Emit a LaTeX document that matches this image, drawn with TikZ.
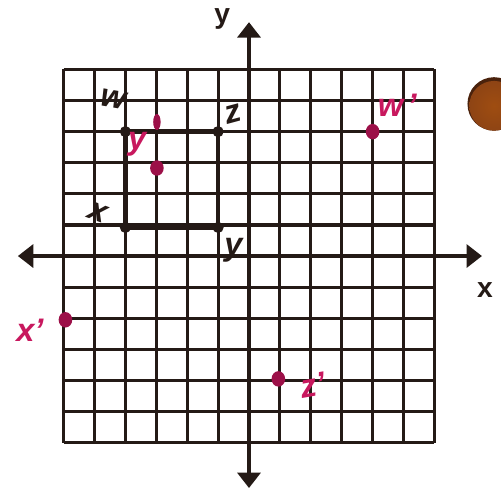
\documentclass[tikz,border=0pt]{standalone}
\usepackage{fontspec}
\setmainfont{Liberation Sans}
\usetikzlibrary{arrows.meta,shapes.geometric}
\definecolor{ink}{HTML}{241A16}
\definecolor{pinkdot}{HTML}{9C1048}
\definecolor{pinkink}{HTML}{C8185E}
\definecolor{brownball}{HTML}{8E4414}
\definecolor{browndark}{HTML}{4A220C}
\tikzset{
  gridline/.style={ink, line width=2.9pt},
  axisline/.style={ink, line width=3.6pt, -{Triangle[width=7.4mm,length=5mm]}},
  cornerdot/.style={circle, fill=ink, inner sep=0pt, minimum size=3.6mm},
  imgdot/.style={ellipse, fill=pinkdot, inner sep=0pt, minimum width=4.4mm, minimum height=5mm},
  axislabel/.style={font=\fontsize{26}{28}\selectfont\bfseries, text=ink, inner sep=0pt},
  handlabel/.style={font=\fontsize{30}{32}\selectfont\bfseries\itshape, text=ink, inner sep=0pt},
  pinklabel/.style={font=\fontsize{30}{32}\selectfont\bfseries\itshape, text=pinkink, inner sep=0pt},
}
\begin{document}
\begin{tikzpicture}[x=1cm, y=1.0065cm]
\useasboundingbox (-8.058,-7.653) rectangle (8.155,8.232);
\fill[white] (-8.058,-7.653) rectangle (8.155,8.232);
% grid
\foreach \i in {-6,...,6} {
  \draw[gridline] (\i,-6) -- (\i,6);
  \draw[gridline] (-6,\i) -- (6,\i);
}
% axes
\coordinate (O) at (0,0);
\coordinate (xl) at (-7.48,0);
\coordinate (xr) at (7.54,0);
\coordinate (yb) at (0,-7.46);
\coordinate (yt) at (0,7.52);
\draw[axisline] (O) -- (xr);
\draw[axisline] (O) -- (xl);
\draw[axisline] (O) -- (yt);
\draw[axisline] (O) -- (yb);
\node[axislabel] (ylab) at (-0.87,7.62) {y};
\node[axislabel] (xlab) at (7.64,-1.09) {x};
% square WZYX
\node[cornerdot] (W) at (-4,4) {};
\node[cornerdot] (Z) at (-1,4) {};
\node[cornerdot] (Y) at (-1,0.92) {};
\node[cornerdot] (X) at (-4,0.92) {};
\draw[ink, line width=4.4pt, line join=round] (W.center) -- (Z.center) -- (Y.center) -- (X.center) -- cycle;
\node[handlabel, rotate=-10] (Wl) at (-4.40,5.05) {w};
\node[handlabel, rotate=15] (Zl) at (-0.52,4.57) {z};
\node[handlabel, rotate=-20] (Xl) at (-4.89,1.40) {x};
\node[handlabel] (Yl) at (-0.50,0.20) {y};
% images
\node[imgdot] (Yp) at (-2.98,2.83) {};
\node[ellipse, fill=pinkdot, inner sep=0pt, minimum width=2.4mm, minimum height=5.2mm] (Ym) at (-2.98,4.31) {};
\node[pinklabel] (Ypl) at (-3.62,3.60) {y};
\node[imgdot] (Wp) at (4,4) {};
\node[pinklabel] (Wpl) at (4.80,4.86) {w\kern4pt'};
\node[imgdot] (Xp) at (-5.94,-2.05) {};
\node[pinklabel] (Xpl) at (-7.09,-2.38) {x'};
\node[imgdot] (Zp) at (0.95,-3.95) {};
\node[pinklabel, rotate=10] (Zpl) at (2.07,-4.15) {z'};
% brown ball
\fill[browndark] (7.93,4.89) circle (0.86);
\shade[inner color=brownball!85!orange, outer color=brownball] (7.93,4.83) circle (0.80);
\end{tikzpicture}
\end{document}
